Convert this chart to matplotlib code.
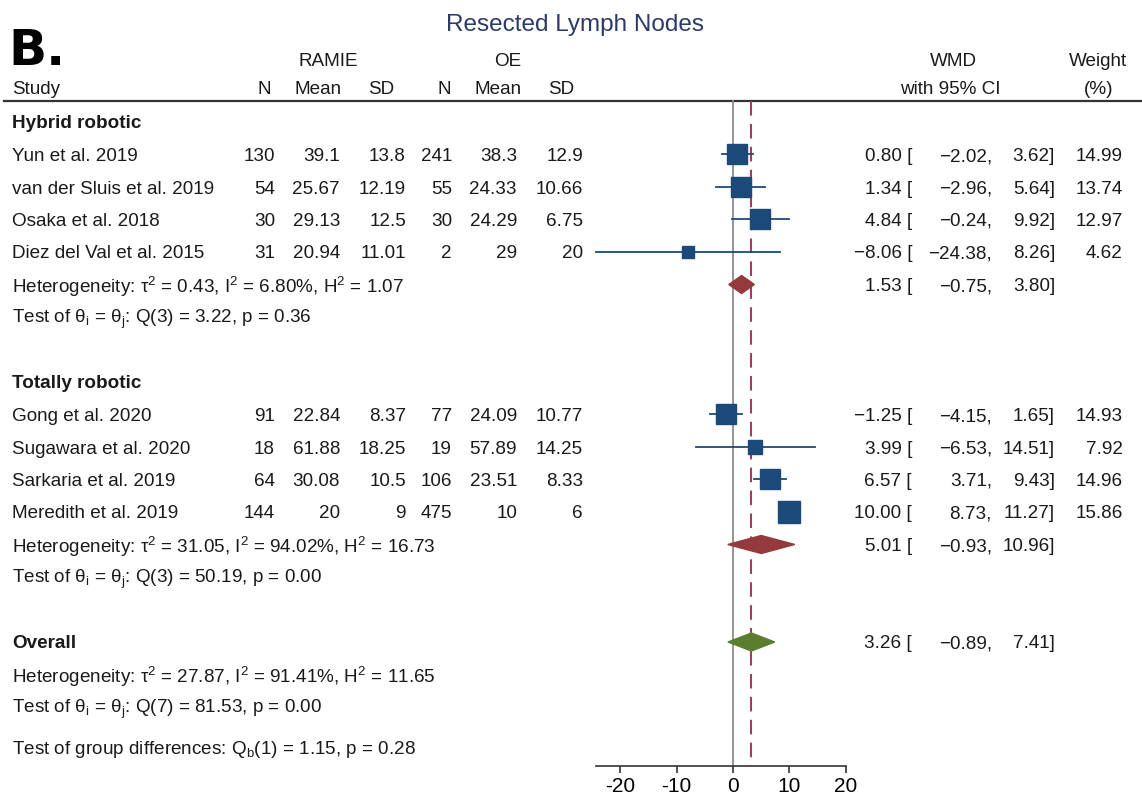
import matplotlib
matplotlib.use("Agg")
import matplotlib.pyplot as plt
from matplotlib.patches import Polygon

plt.rcParams['font.family'] = ['Liberation Sans', 'DejaVu Sans']
plt.rcParams['mathtext.fontset'] = 'custom'
plt.rcParams['mathtext.rm'] = 'Liberation Sans'
plt.rcParams['mathtext.it'] = 'Liberation Sans:italic'

# ---- data ----
groups = ['Hybrid robotic', 'Totally robotic']
studies = [['Yun et al. 2019', 'van der Sluis et al. 2019', 'Osaka et al. 2018', 'Diez del Val et al. 2015'],
           ['Gong et al. 2020', 'Sugawara et al. 2020', 'Sarkaria et al. 2019', 'Meredith et al. 2019']]
ramie_n = [[130, 54, 30, 31], [91, 18, 64, 144]]
ramie_mean = [[39.1, 25.67, 29.13, 20.94], [22.84, 61.88, 30.08, 20]]
ramie_sd = [[13.8, 12.19, 12.5, 11.01], [8.37, 18.25, 10.5, 9]]
oe_n = [[241, 55, 30, 2], [77, 19, 106, 475]]
oe_mean = [[38.3, 24.33, 24.29, 29], [24.09, 57.89, 23.51, 10]]
oe_sd = [[12.9, 10.66, 6.75, 20], [10.77, 14.25, 8.33, 6]]
wmd = [[0.80, 1.34, 4.84, -8.06], [-1.25, 3.99, 6.57, 10.00]]
ci_lo = [[-2.02, -2.96, -0.24, -24.38], [-4.15, -6.53, 3.71, 8.73]]
ci_hi = [[3.62, 5.64, 9.92, 8.26], [1.65, 14.51, 9.43, 11.27]]
weight = [[14.99, 13.74, 12.97, 4.62], [14.93, 7.92, 14.96, 15.86]]

sub_wmd = [1.53, 5.01]
sub_lo = [-0.75, -0.93]
sub_hi = [3.80, 10.96]
sub_het = [r'Heterogeneity: $\mathrm{\tau^2}$ = 0.43, $\mathrm{I^2}$ = 6.80%, $\mathrm{H^2}$ = 1.07',
           r'Heterogeneity: $\mathrm{\tau^2}$ = 31.05, $\mathrm{I^2}$ = 94.02%, $\mathrm{H^2}$ = 16.73']
sub_test = [r'Test of $\mathrm{\theta_i}$ = $\mathrm{\theta_j}$: Q(3) = 3.22, p = 0.36',
            r'Test of $\mathrm{\theta_i}$ = $\mathrm{\theta_j}$: Q(3) = 50.19, p = 0.00']

overall = (3.26, -0.89, 7.41)
overall_het = r'Heterogeneity: $\mathrm{\tau^2}$ = 27.87, $\mathrm{I^2}$ = 91.41%, $\mathrm{H^2}$ = 11.65'
overall_test = r'Test of $\mathrm{\theta_i}$ = $\mathrm{\theta_j}$: Q(7) = 81.53, p = 0.00'
group_test = r'Test of group differences: $\mathrm{Q_b}$(1) = 1.15, p = 0.28'

xticks = [-20, -10, 0, 10, 20]

# ---- style ----
W, H = 1142, 799
FS = 13.6
SQ = '#1c4a78'
SUBC = '#943a3c'
OVC = '#5b7d2e'
DASH = '#a33d60'
TXT = '#1a1a1a'

ROW0, ROWH = 122, 32.5
DY = 2  # text baseline nudge


def rowy(i):
    return ROW0 + ROWH * i


def fmt(v):
    return ('%.2f' % v).replace('-', '\u2212')


def put(x, y, s, ha='left', **kw):
    tx.text(x, y + DY, s, ha=ha, va='center', fontsize=kw.pop('fontsize', FS), color=kw.pop('color', TXT), **kw)


fig = plt.figure(figsize=(W / 100, H / 100), dpi=100)
tx = fig.add_axes([0, 0, 1, 1])
tx.set_xlim(0, W)
tx.set_ylim(H, 0)
tx.axis('off')

# forest axes: x in data units, y in pixel rows
ax_left, ax_right, ax_top, ax_bot = 595.6, 845.7, 101, 766
fx = fig.add_axes([ax_left / W, 1 - ax_bot / H, (ax_right - ax_left) / W, (ax_bot - ax_top) / H])
fx.set_xlim(-24.38, 20)
fx.set_ylim(ax_bot, ax_top)
fx.patch.set_alpha(0)
for s in ['top', 'right', 'left']:
    fx.spines[s].set_visible(False)
fx.spines['bottom'].set_color('#333333')
fx.spines['bottom'].set_linewidth(1.2)
fx.set_yticks([])
fx.set_xticks(xticks)
fx.set_xticklabels([str(t) for t in xticks], fontsize=15)
fx.tick_params(axis='x', length=5, width=1.2, color='#333333', pad=3)

# title and header
tx.text(575, 25, 'Resected Lymph Nodes', ha='center', va='center', fontsize=17.5, color='#2b3a67')
tx.text(8, 51, 'B.', ha='left', va='center', fontsize=36, fontweight='bold', color='black',
        family=['DejaVu Sans'])
put(328, 60, 'RAMIE', ha='center')
put(508, 60, 'OE', ha='center')
put(12, 88, 'Study')
for lab, xc in zip(['N', 'Mean', 'SD', 'N', 'Mean', 'SD'], [264, 318, 381, 444, 498, 561]):
    put(xc, 88, lab, ha='center')
put(953, 60, 'WMD', ha='center')
put(950, 88, 'with 95% CI', ha='center')
put(1098, 60, 'Weight', ha='center')
put(1099, 88, '(%)', ha='center')
tx.plot([4, W], [101, 101], color='#333333', lw=1.6)

# reference lines
fx.plot([0, 0], [ax_top, ax_bot], color='#8c8c8c', lw=1.3, zorder=1, clip_on=False)
fx.plot([overall[0], overall[0]], [ax_top, ax_bot], color=DASH, lw=1.5, ls=(0, (7, 4)), zorder=1,
        clip_on=False)

col_right = [275, 340, 406, 452, 517, 583]


def ci_text(y, e, lo, hi, w=None):
    put(912, y, fmt(e) + ' [', ha='right')
    put(992, y, fmt(lo) + ',', ha='right')
    put(1055, y, fmt(hi) + ']', ha='right')
    if w is not None:
        put(1123, y, '%.2f' % w, ha='right')


def diamond(y, e, lo, hi, color, half=9):
    fx.add_patch(Polygon([(lo, y), (e, y - half), (hi, y), (e, y + half)], closed=True,
                         facecolor=color, edgecolor=color, zorder=3, clip_on=False))


row = 0
for g in range(len(groups)):
    put(12, rowy(row), groups[g], fontweight='bold')
    row += 1
    for k in range(len(studies[g])):
        y = rowy(row)
        put(12, y, studies[g][k])
        vals = [ramie_n[g][k], ramie_mean[g][k], ramie_sd[g][k], oe_n[g][k], oe_mean[g][k], oe_sd[g][k]]
        for v, xr in zip(vals, col_right):
            put(xr, y, '%g' % v, ha='right')
        fx.plot([ci_lo[g][k], ci_hi[g][k]], [y, y], color=SQ, lw=1.3, zorder=2, clip_on=False)
        ms = 5.3 * weight[g][k] ** 0.5 * 0.72
        fx.plot([wmd[g][k]], [y], marker='s', ms=ms, color=SQ, mec=SQ, zorder=3, clip_on=False)
        ci_text(y, wmd[g][k], ci_lo[g][k], ci_hi[g][k], weight[g][k])
        row += 1
    y = rowy(row)
    diamond(y, sub_wmd[g], sub_lo[g], sub_hi[g], SUBC)
    ci_text(y, sub_wmd[g], sub_lo[g], sub_hi[g])
    put(12, y, sub_het[g])
    row += 1
    put(12, rowy(row), sub_test[g])
    row += 2

y = rowy(row)
put(12, y, 'Overall', fontweight='bold')
diamond(y, overall[0], overall[1], overall[2], OVC)
ci_text(y, *overall)
put(12, rowy(row + 1), overall_het)
put(12, rowy(row + 2), overall_test)
put(12, rowy(row + 3.25), group_test)

fig.savefig('out.png', dpi=100, facecolor='white')
